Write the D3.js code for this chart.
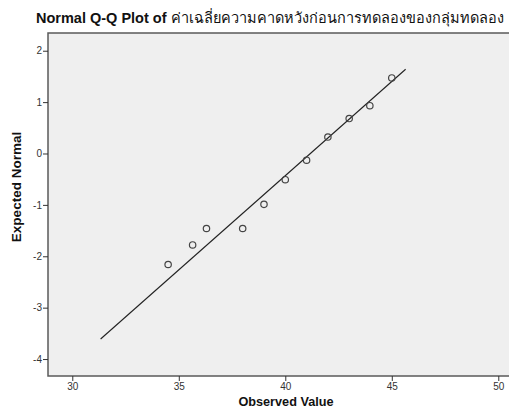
<!DOCTYPE html>
<html><head><meta charset="utf-8">
<script src="https://cdn.jsdelivr.net/npm/d3@7/dist/d3.min.js"></script>
<style>body{margin:0;background:#fff}svg{display:block}</style>
</head><body>
<svg id="c" width="509" height="412"></svg>
<script>
const observed = [34.5, 35.65, 36.3, 38.0, 39.0, 40.0, 41.0, 42.0, 43.0, 43.97, 45.0];
const expected = [-2.16, -1.78, -1.46, -1.46, -0.99, -0.51, -0.13, 0.32, 0.68, 0.93, 1.47];
const lineX = [31.33, 45.65];
const lineY = [-3.61, 1.64];
const xTicks = [30, 35, 40, 45, 50];
const yTicks = [2, 1, 0, -1, -2, -3, -4];
const titleBold = "Normal Q-Q Plot of ";
const titleThai = "ค่าเฉลี่ยความคาดหวังก่อนการทดลองของกลุ่มทดลอง";

const svg = d3.select("#c");
const L = 48, T = 33, R = 512, B = 376;
const x = d3.scaleLinear().domain([28.86, 50.34]).range([L, L + (50.34 - 28.86) * 21.3]);
const y = d3.scaleLinear().domain([-4.33, 2.345]).range([B, T]);

svg.append("rect").attr("x", L).attr("y", T).attr("width", R - L).attr("height", B - T)
  .attr("fill", "#efefef").attr("stroke", "#5a5a5a").attr("stroke-width", 1.5);

const font = "'Liberation Sans', Arial, sans-serif";
const fmt = d => String(d);
const xa = svg.append("g").attr("transform", `translate(0,${B})`)
  .call(d3.axisBottom(x).tickValues(xTicks).tickFormat(fmt).tickSize(5).tickPadding(2));
const ya = svg.append("g").attr("transform", `translate(${L},0)`)
  .call(d3.axisLeft(y).tickValues(yTicks).tickFormat(fmt).tickSize(5).tickPadding(1));
[xa, ya].forEach(a => {
  a.select(".domain").remove();
  a.selectAll(".tick line").attr("stroke", "#333");
  a.selectAll(".tick text").attr("fill", "#333").style("font-family", font).style("font-size", "10px");
});

svg.append("line")
  .attr("x1", x(lineX[0])).attr("y1", y(lineY[0]))
  .attr("x2", x(lineX[1])).attr("y2", y(lineY[1]))
  .attr("stroke", "#222").attr("stroke-width", 1.1);

svg.append("g").selectAll("circle").data(observed).join("circle")
  .attr("cx", (d) => x(d)).attr("cy", (d, i) => y(expected[i])).attr("r", 3.2)
  .attr("fill", "none").attr("stroke", "#444").attr("stroke-width", 1.2);

const t = svg.append("text").attr("x", 36).attr("y", 23).style("font-family", font).style("font-size", "14.5px").attr("fill", "#111");
t.append("tspan").attr("font-weight", "bold").text(titleBold);
t.append("tspan").text(titleThai);

svg.append("text").attr("x", 286).attr("y", 406).attr("text-anchor", "middle")
  .style("font-family", font).style("font-size", "12.7px").attr("font-weight", "bold").attr("fill", "#111").text("Observed Value");
svg.append("text").attr("transform", "translate(21,187) rotate(-90)").attr("text-anchor", "middle")
  .style("font-family", font).style("font-size", "13.5px").attr("font-weight", "bold").attr("fill", "#111").text("Expected Normal");
</script>
</body></html>
